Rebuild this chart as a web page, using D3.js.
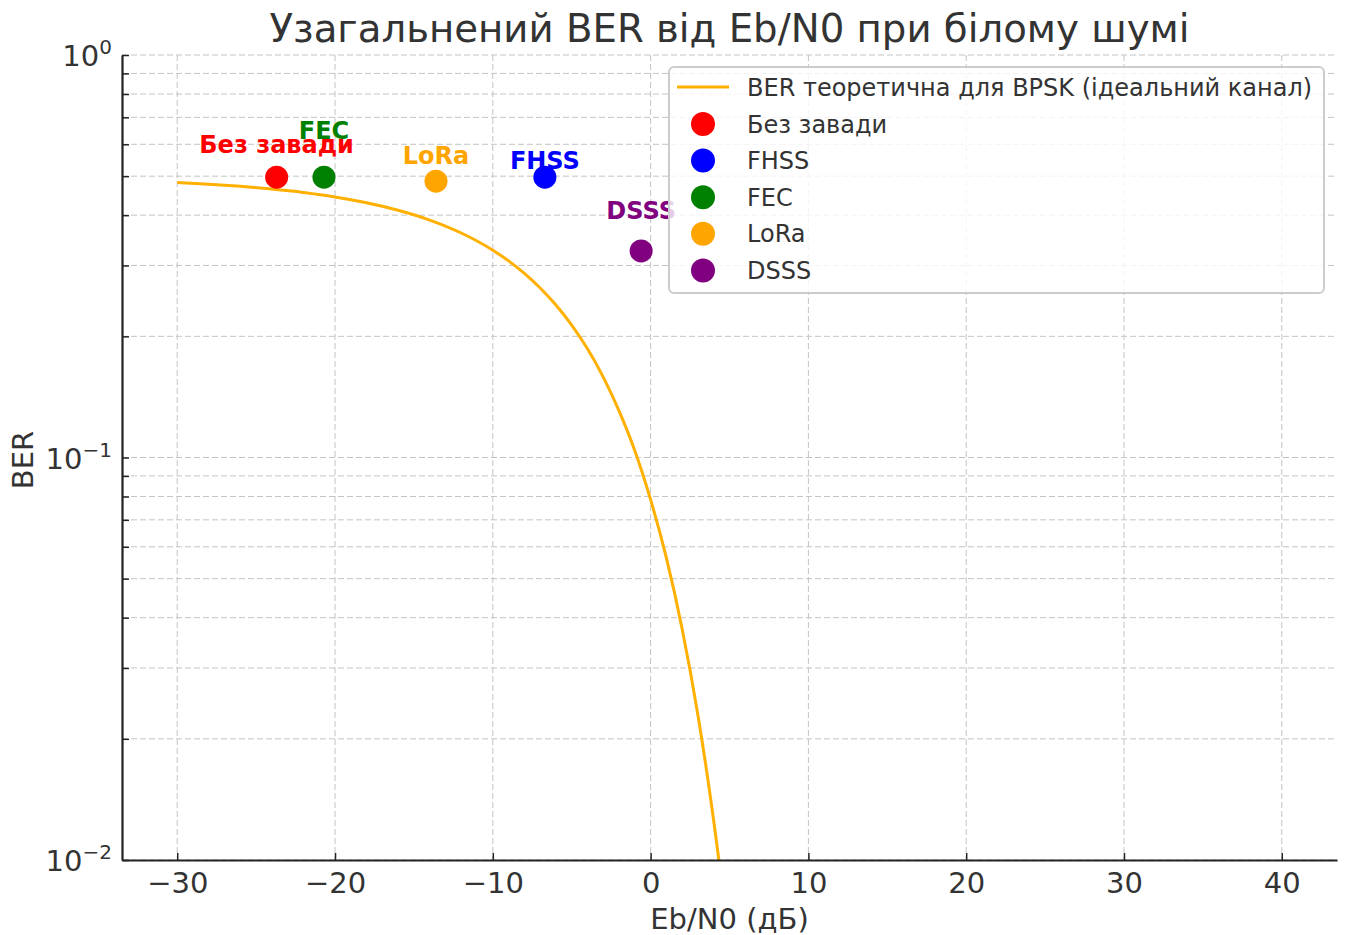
<!DOCTYPE html>
<html><head><meta charset="utf-8">
<script src="https://cdn.jsdelivr.net/npm/d3@7"></script>
<style>body{margin:0;background:#fff}svg{display:block;font-family:"DejaVu Sans",sans-serif}</style>
</head><body><svg id="c" width="1347" height="935"></svg>
<script>
// Theoretical BPSK curve
const curveX = [-30,-28,-26,-24,-22,-20,-18,-16,-14,-12,-10,-9,-8,-7,-6,-5,-4,-3,-2,-1,0,1,2,3,4,5,6];
const curveBER = [0.4822,0.4776,0.4717,0.4644,0.4553,0.4438,0.4293,0.4113,0.3889,0.3612,0.3274,0.3079,0.2867,0.2637,0.2392,0.2133,0.1862,0.1584,0.1306,0.1040,0.0786,0.0563,0.0375,0.0229,0.0125,0.0060,0.0024];
// Scenario points
const pointNames = ["Без завади","FHSS","FEC","LoRa","DSSS"];
const pointEbN0 = [-23.7,-6.7,-20.7,-13.6,-0.6];
const pointBER = [0.497,0.497,0.497,0.486,0.326];
const pointColors = ["red","blue","green","orange","purple"];
const xTicks = [-30,-20,-10,0,10,20,30,40];
const yMajor = [1,0.1,0.01];
const yExp = ["0","−1","−2"];
const lineName = "BER теоретична для BPSK (ідеальний канал)";

const labelDy = [-33,-17,-47,-26,-40];

const svg = d3.select("#c");
const L=122,R=1337,T=55,B=860;
const x = d3.scaleLinear().domain([-33.5,43.5]).range([L,R]);
const y = d3.scaleLog().domain([0.01,1]).range([B,T]);
const txt="#333";

// grid
const minors=[];
for (const d of [0.01,0.1]) for(let k=2;k<=9;k++) minors.push(d*k);
const g = svg.append("g");
g.selectAll("line.vx").data(xTicks).join("line")
 .attr("x1",d=>x(d)).attr("x2",d=>x(d)).attr("y1",T).attr("y2",B)
 .attr("stroke","#c4c4c4").attr("stroke-dasharray","6,3").attr("stroke-width",1);
g.selectAll("line.hy").data(yMajor.concat(minors)).join("line")
 .attr("x1",L).attr("x2",R).attr("y1",d=>y(d)).attr("y2",d=>y(d))
 .attr("stroke","#c4c4c4").attr("stroke-dasharray","6,3").attr("stroke-width",1);

// clip
svg.append("clipPath").attr("id","clp").append("rect").attr("x",L).attr("y",T).attr("width",R-L).attr("height",B-T);

// curve
const lineData = curveX.map((v,i)=>[v,curveBER[i]]);
svg.append("path").datum(lineData).attr("clip-path","url(#clp)")
 .attr("d",d3.line().x(d=>x(d[0])).y(d=>y(d[1])).curve(d3.curveMonotoneX))
 .attr("fill","none").attr("stroke","#ffb000").attr("stroke-width",3);

// points
pointNames.forEach((n,i)=>{
  svg.append("circle").attr("cx",x(pointEbN0[i])).attr("cy",y(pointBER[i])).attr("r",11.5).attr("fill",pointColors[i]);
});
pointNames.forEach((n,i)=>{
  svg.append("text").attr("x",x(pointEbN0[i])).attr("y",y(pointBER[i])+labelDy[i]+8.5)
   .attr("text-anchor","middle").attr("font-weight","bold").attr("font-size",24)
   .attr("fill",pointColors[i]).text(n);
});

// axes
const xa = svg.append("g").attr("transform",`translate(0,${B})`)
 .call(d3.axisBottom(x).tickValues(xTicks).tickSizeInner(-7).tickSizeOuter(0).tickPadding(12).tickFormat(d=>d<0?"−"+Math.abs(d):d));
xa.select(".domain").attr("stroke","#222").attr("stroke-width",2.2);
xa.selectAll(".tick line").attr("stroke","#222").attr("stroke-width",1.5);
xa.selectAll("text").attr("font-size",29).attr("fill",txt).attr("font-family","DejaVu Sans");

const ya = svg.append("g").attr("transform",`translate(${L},0)`)
 .call(d3.axisLeft(y).tickValues(yMajor.concat(minors)).tickSizeInner(-7).tickSizeOuter(0).tickFormat(""));
ya.select(".domain").attr("stroke","#222").attr("stroke-width",2.2);
ya.selectAll(".tick line").attr("stroke","#222").attr("stroke-width",1.5);
yMajor.forEach((v,i)=>{
  const t = svg.append("text").attr("x",L-10).attr("y",y(v)+11).attr("text-anchor","end").attr("fill",txt).attr("font-size",29);
  t.append("tspan").text("10");
  t.append("tspan").attr("dy",-12).attr("font-size",20).text(yExp[i]);
});

// labels
svg.append("text").attr("x",(L+R)/2).attr("y",929).attr("text-anchor","middle").attr("font-size",29).attr("fill",txt).text("Eb/N0 (дБ)");
svg.append("text").attr("transform","translate(33,460) rotate(-90)").attr("text-anchor","middle").attr("font-size",29).attr("fill",txt).text("BER");
svg.append("text").attr("x",(L+R)/2).attr("y",42).attr("text-anchor","middle").attr("font-size",38.7).attr("fill",txt).text("Узагальнений BER від Eb/N0 при білому шумі");

// legend
const lg = svg.append("g");
lg.append("rect").attr("x",669).attr("y",67).attr("width",655).attr("height",226).attr("rx",5)
 .attr("fill","rgba(255,255,255,0.8)").attr("stroke","#cccccc").attr("stroke-width",2);
lg.append("line").attr("x1",677).attr("x2",729).attr("y1",87).attr("y2",87).attr("stroke","#ffb000").attr("stroke-width",3);
lg.append("text").attr("x",747).attr("y",95.5).attr("font-size",24).attr("fill",txt).text(lineName);
pointNames.forEach((n,i)=>{
  const yy = 124 + i*36.6;
  lg.append("circle").attr("cx",703).attr("cy",yy).attr("r",12).attr("fill",pointColors[i]);
  lg.append("text").attr("x",747).attr("y",yy+8.5).attr("font-size",24).attr("fill",txt).text(n);
});
</script></body></html>
